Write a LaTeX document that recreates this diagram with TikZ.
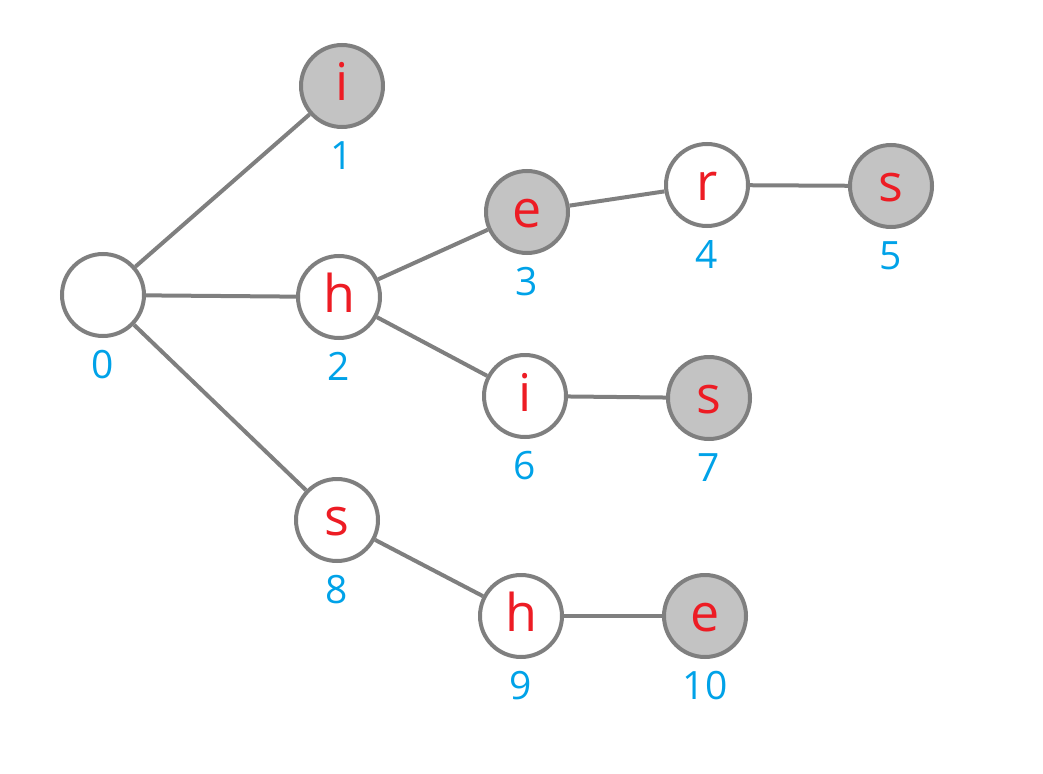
\documentclass[tikz,border=0pt]{standalone}
\usepackage{fontspec}
\setmainfont{Open Sans}
\usetikzlibrary{positioning}
\definecolor{edgegray}{HTML}{7F7F7F}
\definecolor{leafgray}{HTML}{C3C3C3}
\definecolor{charred}{HTML}{ED1C24}
\definecolor{idblue}{HTML}{00A2E8}

\begin{document}
\begin{tikzpicture}[
  x=1pt,y=-1pt,
  node distance=12pt,
  state/.style={circle,draw=edgegray,line width=4pt,minimum size=82pt,inner sep=0pt,fill=white,text=charred,font=\fontsize{52}{52}\selectfont,text height=30pt,text depth=0pt},
  final/.style={state,fill=leafgray},
  num/.style={text=idblue,font=\fontsize{39}{39}\selectfont,inner sep=0pt},
  link/.style={draw=edgegray,line width=4pt}
]
\useasboundingbox (0,0) rectangle (1043,773);
% trie states
\node[state] (s0) at (103,295) {};
\node[final] (s1) at (342,86) {i};
\node[state] (s2) at (339,297) {h};
\node[final] (s3) at (527,212) {e};
\node[state] (s4) at (707,185) {r};
\node[final] (s5) at (891,186) {s};
\node[state] (s6) at (525,396) {i};
\node[final] (s7) at (709,398) {s};
\node[state] (s8) at (337,520) {s};
\node[state] (s9) at (521,616) {h};
\node[final] (s10) at (705,616) {e};

% state numbers
\node[num,below=of s0] (n0) {0};
\node[num,below=of s1] (n1) {1};
\node[num,below=of s2] (n2) {2};
\node[num,below=of s3] (n3) {3};
\node[num,below=of s4] (n4) {4};
\node[num,below=of s5] (n5) {5};
\node[num,below=of s6] (n6) {6};
\node[num,below=of s7] (n7) {7};
\node[num,below=of s8] (n8) {8};
\node[num,below=of s9] (n9) {9};
\node[num,below=of s10] (n10) {10};

\draw[link] (s0)--(s1);
\draw[link] (s0)--(s2);
\draw[link] (s0)--(s8);
\draw[link] (s2)--(s3);
\draw[link] (s3)--(s4);
\draw[link] (s4)--(s5);
\draw[link] (s2)--(s6);
\draw[link] (s6)--(s7);
\draw[link] (s8)--(s9);
\draw[link] (s9)--(s10);
\end{tikzpicture}
\end{document}
